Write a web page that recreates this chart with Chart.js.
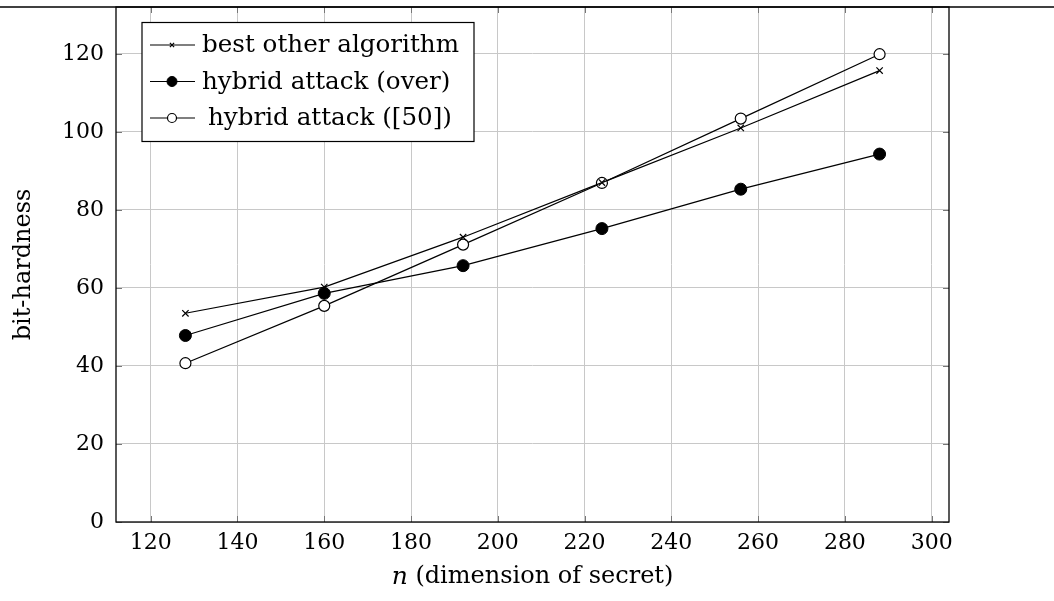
<!DOCTYPE html>
<html>
<head>
<meta charset="utf-8">
<script src="https://cdn.jsdelivr.net/npm/chart.js@4.4.1/dist/chart.umd.min.js"></script>
<style>
  html, body { margin: 0; padding: 0; background: #fff; }
  #wrap { width: 1054px; height: 601px; }
</style>
</head>
<body>
<div id="wrap"><canvas id="chart" width="1054" height="601"></canvas></div>
<script>
// 데이터
const nValues = [128, 160, 192, 224, 256, 288];
const bestOther = [53.5, 60.2, 73, 87, 101, 115.7];
const hybridOver = [47.8, 58.6, 65.7, 75.2, 85.3, 94.3];
const hybrid50 = [40.7, 55.4, 71.1, 86.9, 103.4, 119.9];
const seriesLabels = ['best other algorithm', 'hybrid attack (over)', 'hybrid attack ([50])'];
const xTicks = [120, 140, 160, 180, 200, 220, 240, 260, 280, 300];
const yTicks = [0, 20, 40, 60, 80, 100, 120];

const FONT = '"DejaVu Serif", "Liberation Serif", serif';

function toPoints(ys) {
    return nValues.map((x, i) => ({ x: x, y: ys[i] }));
}

// 범례, 테두리, 안쪽 눈금, x축 제목을 그리는 플러그인
const framePlugin = {
    id: 'framePlugin',
    afterDraw(chart) {
        const ctx = chart.ctx;
        const a = chart.chartArea;
        const xs = chart.scales.x, ys = chart.scales.y;
        ctx.save();

        // 안쪽 눈금
        ctx.strokeStyle = '#777';
        ctx.lineWidth = 1;
        xTicks.forEach(v => {
            const px = Math.round(xs.getPixelForValue(v)) + 0.5;
            ctx.beginPath();
            ctx.moveTo(px, a.bottom); ctx.lineTo(px, a.bottom - 6);
            ctx.moveTo(px, a.top); ctx.lineTo(px, a.top + 6);
            ctx.stroke();
        });
        yTicks.forEach(v => {
            const py = Math.round(ys.getPixelForValue(v)) + 0.5;
            ctx.beginPath();
            ctx.moveTo(a.left, py); ctx.lineTo(a.left + 6, py);
            ctx.moveTo(a.right, py); ctx.lineTo(a.right - 6, py);
            ctx.stroke();
        });

        // 테두리
        ctx.strokeStyle = '#000';
        ctx.lineWidth = 1.3;
        ctx.strokeRect(a.left, a.top, a.right - a.left, a.bottom - a.top);
        // 페이지 위쪽 가로선
        ctx.beginPath();
        ctx.moveTo(0, a.top); ctx.lineTo(chart.width, a.top);
        ctx.stroke();

        // 범례
        const lx = 142, ly = 22.5, lw = 332, lh = 119;
        ctx.fillStyle = '#fff';
        ctx.fillRect(lx, ly, lw, lh);
        ctx.strokeStyle = '#000';
        ctx.lineWidth = 1.2;
        ctx.strokeRect(lx, ly, lw, lh);
        const rows = [45, 81.5, 118];
        const textX = [202, 202, 208];
        const legendRadius = [3, 5, 4.5];
        chart.data.datasets.forEach((ds, i) => {
            const y = rows[i];
            ctx.strokeStyle = '#000';
            ctx.lineWidth = 1.2;
            ctx.beginPath();
            ctx.moveTo(150, y); ctx.lineTo(195, y);
            ctx.stroke();
            ctx.fillStyle = ds.pointBackgroundColor;
            ctx.strokeStyle = '#000';
            ctx.lineWidth = ds.pointBorderWidth;
            Chart.helpers.drawPoint(ctx, {
                pointStyle: ds.pointStyle,
                radius: legendRadius[i],
                rotation: 0,
                borderWidth: ds.pointBorderWidth
            }, 172, y);
            ctx.fillStyle = '#000';
            ctx.font = '24.6px ' + FONT;
            ctx.textAlign = 'left';
            ctx.textBaseline = 'middle';
            ctx.fillText(ds.label, textX[i], y + 1);
        });

        // x축 제목: 기울임 n + 나머지
        ctx.fillStyle = '#000';
        ctx.textBaseline = 'middle';
        ctx.textAlign = 'left';
        const italic = 'italic 25px ' + FONT;
        const normal = '24px ' + FONT;
        const rest = ' (dimension of secret)';
        ctx.font = italic;
        const w1 = ctx.measureText('n').width;
        ctx.font = normal;
        const w2 = ctx.measureText(rest).width;
        const cx = (a.left + a.right) / 2;
        const sx = cx - (w1 + w2) / 2;
        ctx.font = italic;
        ctx.fillText('n', sx, 577);
        ctx.font = normal;
        ctx.fillText(rest, sx + w1, 577);

        ctx.restore();
    }
};

const ctx = document.getElementById('chart').getContext('2d');
new Chart(ctx, {
    type: 'scatter',
    data: {
        datasets: [
            {
                label: seriesLabels[0],
                data: toPoints(bestOther),
                showLine: true,
                borderColor: '#000',
                borderWidth: 1.2,
                pointStyle: 'crossRot',
                pointRadius: 4.5,
                pointBorderWidth: 1.2,
                pointBorderColor: '#000',
                pointBackgroundColor: '#000'
            },
            {
                label: seriesLabels[1],
                data: toPoints(hybridOver),
                showLine: true,
                borderColor: '#000',
                borderWidth: 1.2,
                pointStyle: 'circle',
                pointRadius: 6,
                pointBorderWidth: 1,
                pointBorderColor: '#000',
                pointBackgroundColor: '#000'
            },
            {
                label: seriesLabels[2],
                data: toPoints(hybrid50),
                showLine: true,
                borderColor: '#000',
                borderWidth: 1.2,
                pointStyle: 'circle',
                pointRadius: 5.5,
                pointBorderWidth: 1.2,
                pointBorderColor: '#000',
                pointBackgroundColor: '#fff'
            }
        ]
    },
    options: {
        responsive: false,
        animation: false,
        events: [],
        layout: { padding: { top: 6, right: 105, left: 0, bottom: 0 } },
        plugins: {
            legend: { display: false },
            tooltip: { enabled: false }
        },
        scales: {
            x: {
                type: 'linear',
                min: 112,
                max: 304,
                afterBuildTicks: s => { s.ticks = xTicks.map(v => ({ value: v })); },
                afterFit: s => { s.height = 79; s.paddingLeft = 0; s.paddingRight = 0; },
                grid: { color: '#c8c8c8', lineWidth: 1, drawTicks: false },
                border: { display: false },
                ticks: {
                    color: '#000',
                    padding: 8,
                    maxRotation: 0,
                    autoSkip: false,
                    font: { family: FONT, size: 22 }
                }
            },
            y: {
                type: 'linear',
                min: 0,
                max: 132,
                afterBuildTicks: s => { s.ticks = yTicks.map(v => ({ value: v })); },
                afterFit: s => { s.width = 116; s.paddingTop = 0; s.paddingBottom = 0; },
                grid: { color: '#c8c8c8', lineWidth: 1, drawTicks: false },
                border: { display: false },
                title: {
                    display: true,
                    text: 'bit-hardness',
                    color: '#000',
                    padding: { top: 9, bottom: 0 },
                    font: { family: FONT, size: 24 }
                },
                ticks: {
                    color: '#000',
                    padding: 12,
                    font: { family: FONT, size: 22 }
                }
            }
        }
    },
    plugins: [framePlugin]
});
</script>
</body>
</html>
